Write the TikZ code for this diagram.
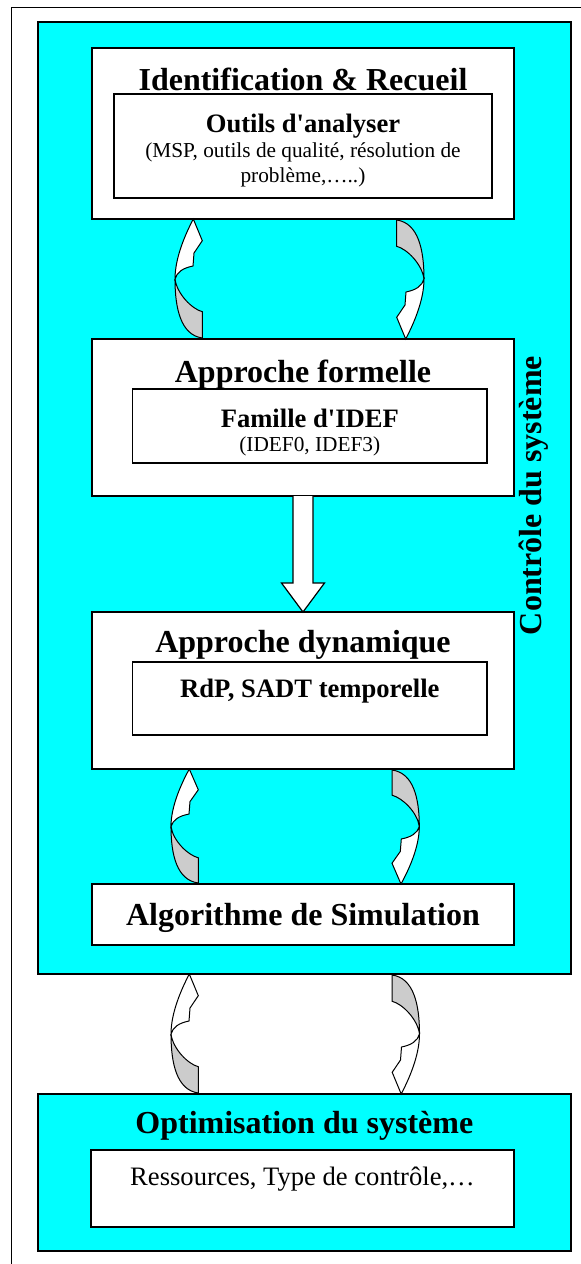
\documentclass[tikz,border=0pt]{standalone}
\usepackage{fontspec}
\setmainfont{Liberation Serif}
\usetikzlibrary{positioning}

\definecolor{cyanvif}{RGB}{0,255,255}
\definecolor{dos}{RGB}{204,204,204}

\tikzset{
	boite/.style={draw, line width=1.2pt, fill=white, inner sep=0pt, outer sep=0pt, minimum width=422pt},
	cadre/.style={draw, line width=1.6pt, fill=cyanvif, inner sep=0pt, outer sep=0pt, minimum width=533.3pt},
	titre/.style={font=\fontsize{32}{36}\selectfont\bfseries, inner sep=0pt, anchor=base},
	soustitre/.style={font=\fontsize{26.6}{30}\selectfont\bfseries, inner sep=0pt, anchor=base},
	petit/.style={font=\fontsize{21.3}{24.5}\selectfont, inner sep=0pt, anchor=base, align=center},
	texte/.style={font=\fontsize{26.6}{30}\selectfont, inner sep=0pt, anchor=base},
	fleche/.style={draw, fill=white, line width=1.2pt},
	courbe/.pic={
		\draw[fill=dos, line width=1pt] (0,60) .. controls (0,90) and (6,116) .. (27.3,119)
			-- (27.3,92.7) .. controls (17,90) and (2,75) .. cycle;
		\draw[fill=white, line width=1pt] (18.3,0) -- (27.3,21.7) -- (19,34) -- (18,47)
			.. controls (8,49) and (2,53) .. (0,60) .. controls (0,38) and (11,14) .. cycle;
	}
}

\begin{document}
\begin{tikzpicture}[x=1pt, y=-1pt]
		\useasboundingbox (0,0) rectangle (581,1264);
		\draw[line width=1pt] (581,7) -- (11,7) -- (11,1264);
	
		\node[cadre, minimum height=952pt] (controle) at (304.35,498) {};
		\node[boite, minimum height=171pt] (ident) at (303,133.5) {};
		\node[boite, minimum height=157pt, below=120pt of ident] (formelle) {};
		\node[boite, minimum height=157pt, below=116pt of formelle] (dynamique) {};
		\node[boite, minimum height=61pt, below=115pt of dynamique] (simulation) {};
		\node[cadre, minimum height=157pt, below=120pt of controle] (optim) {};
		
		\node[boite, minimum width=378pt, minimum height=104pt, below=46pt of ident.north] (outils) {};
		\node[boite, minimum width=354.4pt, minimum height=74pt, below=50pt of formelle.north, xshift=6.8pt] (famille) {};
		\node[boite, minimum width=354.4pt, minimum height=73pt, below=50pt of dynamique.north, xshift=6.8pt] (rdp) {};
		\node[boite, minimum width=423pt, minimum height=77pt, below=56pt of optim.north, xshift=-1.85pt] (ressources) {};
		
		\node[titre] (t1) at ([yshift=-42pt]ident.north) {Identification \& Recueil};
		\node[soustitre] (s1) at ([yshift=-38pt]outils.north) {Outils d\textquotesingle analyser};
		\node[petit] (p1) at ([yshift=-88pt]outils.north) {(MSP, outils de qualité, résolution de\\problème,…..)};
		\node[titre] (t2) at ([yshift=-43pt]formelle.north) {Approche formelle};
		\node[soustitre] (s2) at ([yshift=-38pt]famille.north) {Famille d\textquotesingle IDEF};
		\node[petit] (p2) at ([yshift=-62pt]famille.north) {(IDEF0, IDEF3)};
		\node[titre] (t3) at ([yshift=-40pt]dynamique.north) {Approche dynamique};
		\node[soustitre] (s3) at ([yshift=-35pt]rdp.north) {RdP, SADT temporelle};
		\node[titre] (t4) at ([yshift=-41pt]simulation.north) {Algorithme de Simulation};
		\node[titre] (t5) at ([yshift=-39pt]optim.north) {Optimisation du système};
		\node[texte] (p5) at ([yshift=-35pt]ressources.north) {Ressources, Type de contrôle,…};
		\node[titre, anchor=center, rotate=90] (t6) at ([xshift=229pt, yshift=2.5pt]controle.center) {Contrôle du système};
		
		\draw[fleche] ([xshift=-10pt]formelle.south) -- ([xshift=-10pt, yshift=29pt]dynamique.north)
			-- ([xshift=-21.5pt, yshift=29pt]dynamique.north) -- (dynamique.north)
			-- ([xshift=21.5pt, yshift=29pt]dynamique.north) -- ([xshift=10pt, yshift=29pt]dynamique.north)
			-- ([xshift=10pt]formelle.south);
		
		\pic at ([xshift=-128pt]ident.south) {courbe};
		\pic[rotate=180] at ([xshift=121pt]formelle.north) {courbe};
		\pic[yscale=0.958] at ([xshift=-132pt]dynamique.south) {courbe};
		\pic[rotate=180, yscale=0.958] at ([xshift=116.3pt]simulation.north) {courbe};
		\pic at ([xshift=-133.35pt]controle.south) {courbe};
		\pic[rotate=180] at ([xshift=115.15pt]optim.north) {courbe};
	
	\end{tikzpicture}
\end{document}
